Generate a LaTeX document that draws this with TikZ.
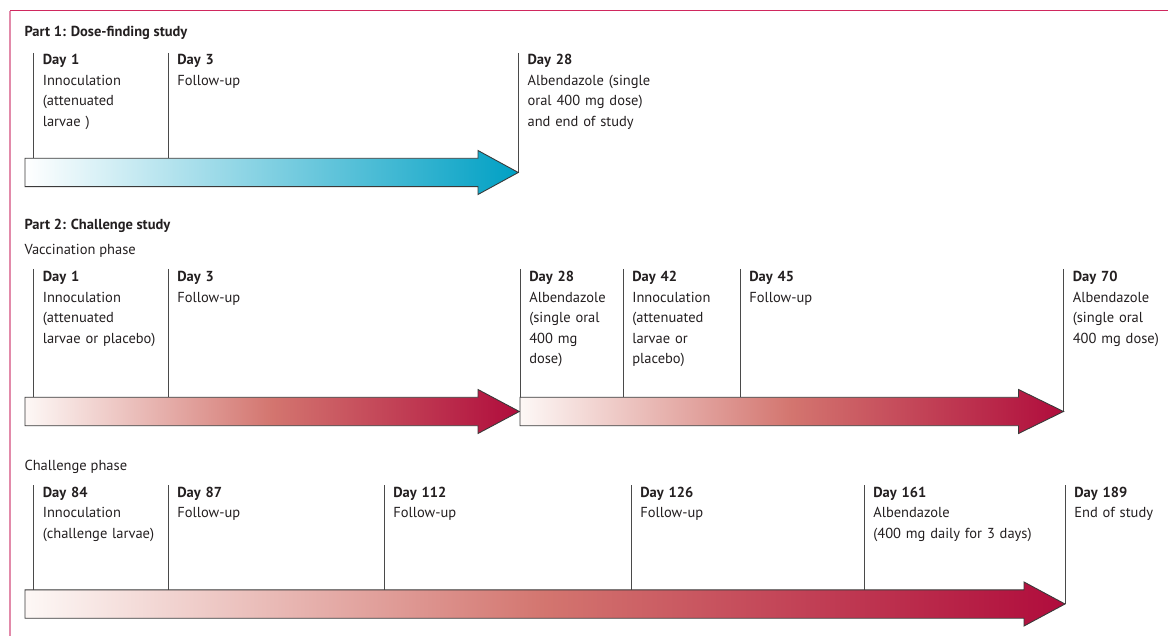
\documentclass[tikz,border=0pt]{standalone}
\usepackage{fontspec}
\setmainfont{PT Sans}
\definecolor{txt}{HTML}{231F20}
\definecolor{teal}{HTML}{00A0C4}
\definecolor{crim}{HTML}{B00C3C}
\definecolor{salmon}{HTML}{D3756F}
\definecolor{redleft}{HTML}{FDF8F6}
\definecolor{frametop}{HTML}{D0285E}
\definecolor{frameleft}{HTML}{E28AAA}
\definecolor{outline}{HTML}{3A3A3A}
\definecolor{tickgray}{HTML}{4A4A4A}
\newcommand\tlarrow[5]{% x-left, x-headbase, x-tip, y-center, shading
  \shade[#5, draw=outline, line width=0.9pt, line join=miter]
    (#1,#4-14.2) -- (#2,#4-14.2) -- (#2,#4-22) -- (#3,#4) -- (#2,#4+22)
    -- (#2,#4+14.2) -- (#1,#4+14.2) -- cycle;}
\newcommand\tlevent[5]{% x, tick top, tick bottom, baseline, text
  \draw[tick] (#1,#2) -- (#1,#3);
  \node[daylbl] at (#1+9.3,#4) {#5};}
\begin{document}
\begin{tikzpicture}[x=1pt,y=-1pt,
  every node/.style={inner sep=0pt, outer sep=0pt, text=txt},
  daylbl/.style={anchor=base west, text width=170pt, align=left,
    font=\fontsize{14.5}{20.5}\selectfont},
  titlelbl/.style={anchor=base west, font=\fontsize{14.5}{17}\selectfont\bfseries},
  phaselbl/.style={anchor=base west, font=\fontsize{14.5}{17}\selectfont},
  tick/.style={draw=tickgray, line width=1pt},
  blueshade/.style={left color=white, right color=teal},
  redshade/.style={left color=redleft, right color=crim, middle color=salmon},
]
\useasboundingbox (0,0) rectangle (1168,636);
% frame
\draw[frametop, line width=1.2pt] (10,10.7) -- (1168,10.7);
\draw[frameleft, line width=1.6pt] (10,10.7) -- (10,636);

% Part 1
\node[titlelbl] (t1) at (24.5,37) {Part 1: Dose-finding study};
\tlevent{33.5}{53}{158}{65}{\textbf{Day 1}\\Innoculation\\(attenuated\\larvae )}
\tlevent{168}{53}{158}{65}{\textbf{Day 3}\\Follow-up}
\tlevent{518.3}{53}{172.5}{65}{\textbf{Day 28}\\Albendazole (single\\oral 400 mg dose)\\and end of study}
\tlarrow{25}{478}{518.3}{172.5}{blueshade}

% Part 2
\node[titlelbl] (t2) at (24.5,230) {Part 2: Challenge study};
\node[phaselbl] (ph1) at (24.5,255) {Vaccination phase};
\tlevent{33.5}{269}{397}{282}{\textbf{Day 1}\\Innoculation\\(attenuated\\larvae or placebo)}
\tlevent{168}{269}{397}{282}{\textbf{Day 3}\\Follow-up}
\tlevent{520}{269}{397}{282}{\textbf{Day 28}\\Albendazole\\(single oral\\400 mg\\dose)}
\tlevent{623}{269}{397}{282}{\textbf{Day 42}\\Innoculation\\(attenuated\\larvae or\\placebo)}
\tlevent{740}{269}{397}{282}{\textbf{Day 45}\\Follow-up}
\tlevent{1063.5}{269}{411.5}{282}{\textbf{Day 70}\\Albendazole\\(single oral\\400 mg dose)}
\tlarrow{25}{478}{519.3}{411.5}{redshade}
\tlarrow{520}{1018.5}{1063.5}{411.5}{redshade}

% Challenge phase
\node[phaselbl] (ph2) at (24.5,470) {Challenge phase};
\tlevent{33.5}{485}{589.5}{497}{\textbf{Day 84}\\Innoculation\\(challenge larvae)}
\tlevent{168}{485}{589.5}{497}{\textbf{Day 87}\\Follow-up}
\tlevent{384}{485}{589.5}{497}{\textbf{Day 112}\\Follow-up}
\tlevent{631}{485}{589.5}{497}{\textbf{Day 126}\\Follow-up}
\tlevent{864}{485}{589.5}{497}{\textbf{Day 161}\\Albendazole\\(400 mg daily for 3 days)}
\tlevent{1065}{485}{604}{497}{\textbf{Day 189}\\End of study}
\tlarrow{25}{1024}{1065}{604}{redshade}
\end{tikzpicture}
\end{document}
